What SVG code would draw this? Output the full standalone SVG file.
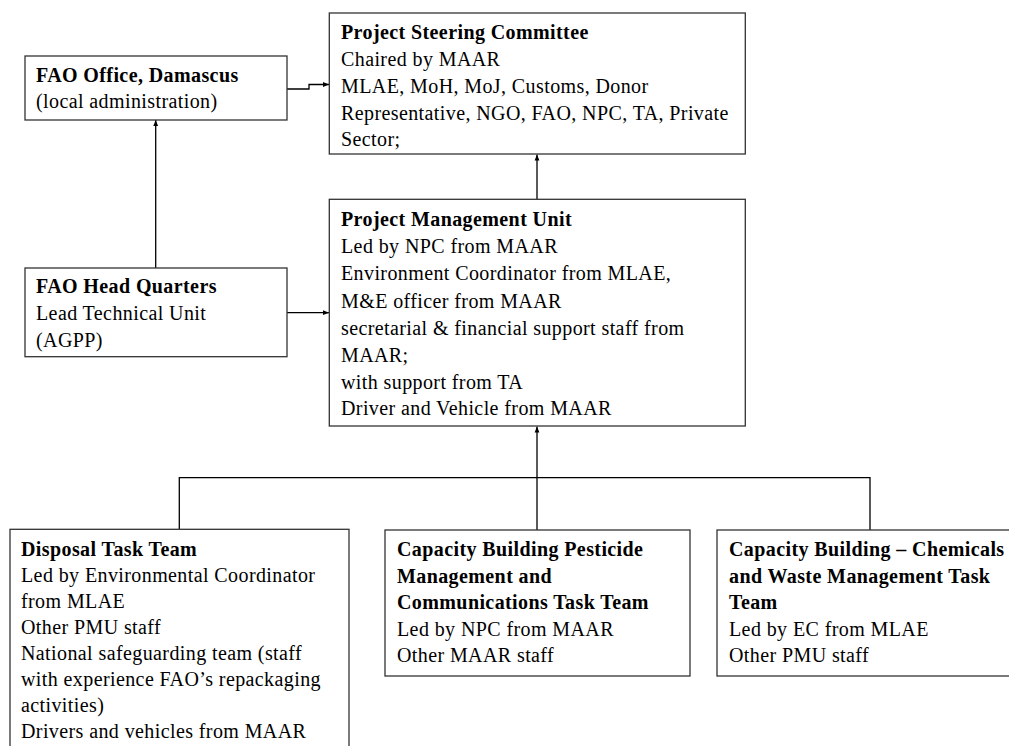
<svg xmlns="http://www.w3.org/2000/svg" width="1009" height="746" viewBox="0 0 1009 746">
<style>
.box{fill:#fff;stroke:#333;stroke-width:1.3}
.t{font-family:"Liberation Serif","Times New Roman",serif;font-size:20px;letter-spacing:0.4px;fill:#000}
.b{font-weight:bold}
.c{fill:none;stroke:#000;stroke-width:1.3}
</style>
<defs>
<marker id="ah" viewBox="0 0 10 10" refX="10" refY="5" markerWidth="6" markerHeight="6" markerUnits="userSpaceOnUse" orient="auto">
<path d="M0,1 L10,5 L0,9 z" fill="#000"/>
</marker>
</defs>
<rect width="1009" height="746" fill="#fff"/>
<g id="connectors">
<path class="c" d="M287,89 H309 V84.5 H329" marker-end="url(#ah)"/>
<path class="c" d="M155.7,268 V120" marker-end="url(#ah)"/>
<path class="c" d="M287,312.7 H329" marker-end="url(#ah)"/>
<path class="c" d="M537,199 V154.5" marker-end="url(#ah)"/>
<path class="c" d="M537,530 V426.5" marker-end="url(#ah)"/>
<path class="c" d="M179.3,529 V477.7 H870 V530"/>
</g>
<g id="fao-office">
<rect class="box" x="25" y="56" width="262" height="64"/>
<text class="t b" x="36" y="82">FAO Office, Damascus</text>
<text class="t" x="36" y="108">(local administration)</text>
</g>
<g id="steering">
<rect class="box" x="329.3" y="13" width="416" height="141"/>
<text class="t b" x="341" y="39">Project Steering Committee</text>
<text class="t" x="341" y="66">Chaired by MAAR</text>
<text class="t" x="341" y="93">MLAE, MoH, MoJ, Customs, Donor</text>
<text class="t" x="341" y="119.5">Representative, NGO, FAO, NPC, TA, Private</text>
<text class="t" x="341" y="145.5">Sector;</text>
</g>
<g id="fao-hq">
<rect class="box" x="25" y="268" width="262" height="88.7"/>
<text class="t b" x="36" y="293">FAO Head Quarters</text>
<text class="t" x="36" y="320">Lead Technical Unit</text>
<text class="t" x="36" y="347">(AGPP)</text>
</g>
<g id="pmu">
<rect class="box" x="329.3" y="199.3" width="416" height="226.7"/>
<text class="t b" x="341" y="226">Project Management Unit</text>
<text class="t" x="341" y="253">Led by NPC from MAAR</text>
<text class="t" x="341" y="280">Environment Coordinator from MLAE,</text>
<text class="t" x="341" y="307.5">M&amp;E officer from MAAR</text>
<text class="t" x="341" y="334.5">secretarial &amp; financial support staff from</text>
<text class="t" x="341" y="361.5">MAAR;</text>
<text class="t" x="341" y="388.5">with support from TA</text>
<text class="t" x="341" y="415">Driver and Vehicle from MAAR</text>
</g>
<g id="disposal">
<rect class="box" x="10" y="529.3" width="339" height="240"/>
<text class="t b" x="21" y="556">Disposal Task Team</text>
<text class="t" x="21" y="582">Led by Environmental Coordinator</text>
<text class="t" x="21" y="608">from MLAE</text>
<text class="t" x="21" y="634">Other PMU staff</text>
<text class="t" x="21" y="660">National safeguarding team (staff</text>
<text class="t" x="21" y="686">with experience FAO’s repackaging</text>
<text class="t" x="21" y="712">activities)</text>
<text class="t" x="21" y="738">Drivers and vehicles from MAAR</text>
</g>
<g id="capacity-pesticide">
<rect class="box" x="385" y="530" width="305" height="146"/>
<text class="t b" x="397" y="556">Capacity Building Pesticide</text>
<text class="t b" x="397" y="582.5">Management and</text>
<text class="t b" x="397" y="609">Communications Task Team</text>
<text class="t" x="397" y="635.5">Led by NPC from MAAR</text>
<text class="t" x="397" y="662">Other MAAR staff</text>
</g>
<g id="capacity-chemicals">
<rect class="box" x="717" y="530" width="300" height="146"/>
<text class="t b" x="729" y="556">Capacity Building – Chemicals</text>
<text class="t b" x="729" y="582.5">and Waste Management Task</text>
<text class="t b" x="729" y="609">Team</text>
<text class="t" x="729" y="635.5">Led by EC from MLAE</text>
<text class="t" x="729" y="662">Other PMU staff</text>
</g>
</svg>
